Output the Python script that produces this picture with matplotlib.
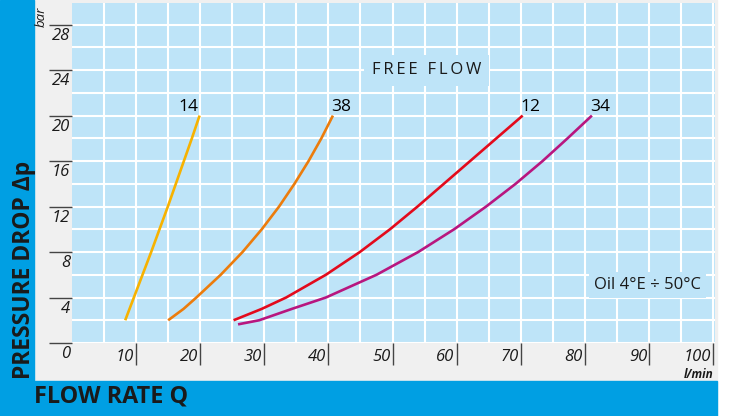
# Pressure drop vs flow rate chart
import matplotlib.pyplot as plt
import matplotlib.transforms as mtransforms
from matplotlib.patches import Rectangle
import numpy as np

plt.rcParams['font.family'] = ['Open Sans', 'DejaVu Sans']

# Curve data (flow l/min, pressure drop bar)
q_14 = [8.3, 9.65, 11.0, 12.35, 13.65, 14.95, 16.2, 17.45, 18.7, 19.9]
p_14 = [2, 4, 6, 8, 10, 12, 14, 16, 18, 20]
q_38 = [15.0, 17.4, 19.4, 23.2, 26.6, 29.6, 32.3, 34.7, 36.9, 38.9, 40.7]
p_38 = [2, 3, 4, 6, 8, 10, 12, 14, 16, 18, 20]
q_12 = [25.2, 29.6, 33.4, 39.6, 44.9, 49.6, 53.9, 58.0, 62.1, 66.2, 70.3]
p_12 = [2, 3, 4, 6, 8, 10, 12, 14, 16, 18, 20]
q_34 = [25.9, 29.2, 34.3, 39.6, 47.5, 54.0, 59.6, 64.6, 69.2, 73.4, 77.3, 81.1]
p_34 = [1.64, 2, 3, 4, 6, 8, 10, 12, 14, 16, 18, 20]

curve_names = ['14', '38', '12', '34']
curve_colors = ['#f7b200', '#ec7c0c', '#e30a1c', '#b8167f']

x_ticks = [10, 20, 30, 40, 50, 60, 70, 80, 90, 100]
y_ticks = [0, 4, 8, 12, 16, 20, 24, 28]

blue = '#009fe3'
grey = '#f0f0f0'
light = '#bee4f8'
dark = '#1a1a1a'

fig = plt.figure(figsize=(7.32, 4.16), dpi=100)
fig.patch.set_facecolor('white')
# frame: grey card, blue band left and bottom
fig.patches.append(Rectangle((0, 0), 717/732, 1, transform=fig.transFigure, color=grey, zorder=-3))
fig.patches.append(Rectangle((0, 0), 34/732, 1, transform=fig.transFigure, color=blue, zorder=-2))
fig.patches.append(Rectangle((0, 0), 717/732, 35/416, transform=fig.transFigure, color=blue, zorder=-2))

ax = fig.add_axes([72/732, 73/416, 643/732, 340/416])
ax.set_zorder(2)
ax.set_facecolor(light)
ax.set_xlim(0, 100.3)
ax.set_ylim(0, 29.9)
for s in ax.spines.values():
    s.set_visible(False)

# grid every 5 l/min and 2 bar
ax.set_xticks(np.arange(5, 101, 5), minor=True)
ax.set_yticks(np.arange(2, 30, 2), minor=True)
ax.set_xticks(x_ticks)
ax.set_yticks(y_ticks)
ax.grid(which='both', color='white', linewidth=1.5)
ax.set_axisbelow(True)
ax.tick_params(which='minor', length=0)
ax.tick_params(axis='y', which='major', length=16.6, width=1.0, color='#444444', direction='out', labelleft=False)
ax.tick_params(axis='x', which='major', length=15.8, width=1.0, color='#444444', direction='out', labelbottom=False)

# tick labels: y below the tick, x left of the tick
ytrans = mtransforms.offset_copy(ax.get_yaxis_transform(), fig=fig, x=-2, y=-3, units='dots')
for v in y_ticks:
    ax.text(0, v, str(v), transform=ytrans, ha='right', va='top', fontsize=12,
            style='italic', color=dark, clip_on=False)
xtrans = mtransforms.offset_copy(ax.get_xaxis_transform(), fig=fig, x=-2, y=-14, units='dots')
for v in x_ticks:
    ax.text(v, 0, str(v), transform=xtrans, ha='right', va='center', fontsize=12,
            style='italic', color=dark, clip_on=False)

# curves
all_q = [q_14, q_38, q_12, q_34]
all_p = [p_14, p_38, p_12, p_34]
for q, p, name, c in zip(all_q, all_p, curve_names, curve_colors):
    ax.plot(q, p, color=c, linewidth=1.9, solid_capstyle='butt', solid_joinstyle='round', zorder=3)
    if name == '14':
        t = mtransforms.offset_copy(ax.transData, fig=fig, x=-1, y=5, units='dots')
        ax.text(q[-1], p[-1], name, transform=t, ha='right', va='baseline', fontsize=12.5, color='black')
    else:
        t = mtransforms.offset_copy(ax.transData, fig=fig, x=-2, y=5, units='dots')
        ax.text(q[-1], p[-1], name, transform=t, ha='left', va='baseline', fontsize=12.5, color='black')

# boxed notes
ax.text(55.3, 24.0, 'F\u2009R\u2009E\u2009E\u2009 \u2009F\u2009L\u2009O\u2009W', ha='center', va='center',
        fontsize=12, color=dark, zorder=4,
        bbox=dict(boxstyle='square,pad=0.45', facecolor=light, edgecolor='none'))
ax.text(89.7, 5.1, 'Oil 4°E ÷ 50°C', ha='center', va='center', fontsize=12, color=dark, zorder=4,
        bbox=dict(boxstyle='square,pad=0.3', facecolor=light, edgecolor='none'))

# axis titles and units
fig.text(24/732, 1 - 270/416, 'PRESSURE DROP Δp', rotation=90, ha='center', va='center',
         fontsize=16.5, fontweight='bold', color=dark)
fig.text(34/732, 1 - 402/416, 'FLOW RATE Q', ha='left', va='baseline',
         fontsize=16.8, fontweight='bold', color=dark)
fig.text(41/732, 1 - 17/416, 'bar', rotation=90, ha='center', va='center',
         fontsize=9.5, style='italic', color=dark)
fig.text(699/732, 1 - 375/416, 'l/min', ha='center', va='center',
         fontsize=8.5, style='italic', fontweight='bold', color=dark)

fig.savefig('out.png', dpi=100)
